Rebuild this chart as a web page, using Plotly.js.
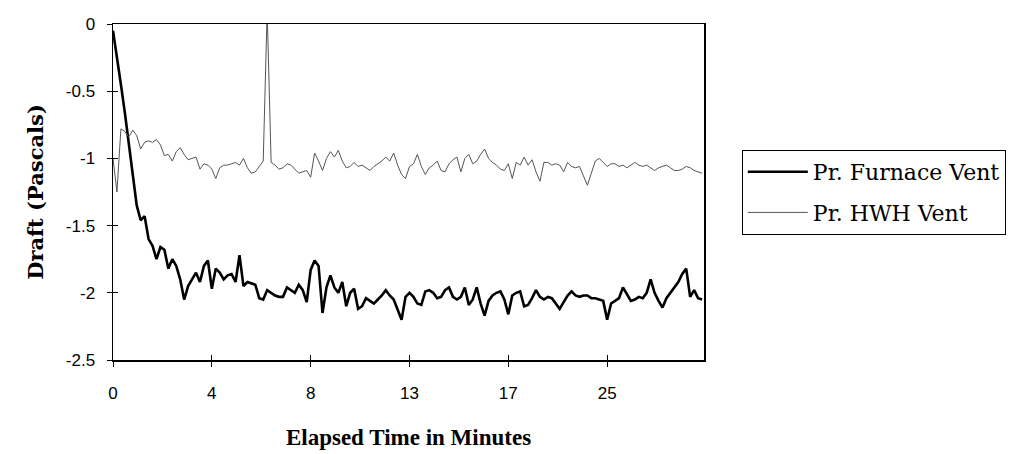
<!DOCTYPE html>
<html>
<head>
<meta charset="utf-8">
<script src="https://cdn.plot.ly/plotly-3.0.1.min.js"></script>
<style>html,body{margin:0;padding:0;background:#fff;}#chart{width:1014px;height:454px;}</style>
</head>
<body>
<div id="chart"></div>
<script>
// Elapsed-time tick labels (minutes), one label every 25 samples
var timeTickLabels = ['0', '4', '8', '13', '17', '25'];
var samplesPerLabel = 25;

// Draft readings (Pascals), sampled evenly along the category axis
var furnaceVent = [
  -0.05, -0.27, -0.45, -0.66, -0.88, -1.10, -1.35, -1.46, -1.43, -1.60,
  -1.65, -1.75, -1.66, -1.68, -1.82, -1.75, -1.80, -1.90, -2.05, -1.95,
  -1.90, -1.85, -1.92, -1.80, -1.76, -1.97, -1.82, -1.85, -1.90, -1.87,
  -1.86, -1.92, -1.72, -1.95, -1.92, -1.93, -1.94, -2.04, -2.05, -1.98,
  -2.00, -2.02, -2.03, -2.03, -1.96, -1.98, -2.00, -1.94, -1.98, -2.07,
  -1.83, -1.76, -1.80, -2.15, -1.96, -1.87, -1.96, -2.00, -1.92, -2.10,
  -2.00, -1.97, -2.12, -2.10, -2.04, -2.06, -2.08, -2.05, -2.02, -1.98,
  -2.02, -2.05, -2.12, -2.20, -2.03, -2.00, -2.03, -2.08, -2.09, -1.99,
  -1.98, -2.00, -2.04, -2.03, -1.98, -1.96, -2.03, -2.05, -2.03, -1.96,
  -2.09, -2.05, -1.96, -2.08, -2.17, -2.06, -2.02, -2.00, -1.99, -2.05,
  -2.16, -2.02, -2.00, -1.99, -2.10, -2.09, -2.04, -1.98, -2.03, -2.05,
  -2.03, -2.04, -2.08, -2.12, -2.07, -2.02, -1.99, -2.02, -2.03, -2.02,
  -2.02, -2.04, -2.04, -2.05, -2.06, -2.20, -2.08, -2.06, -2.04, -1.96,
  -2.01, -2.06, -2.05, -2.03, -2.04, -2.00, -1.90, -2.00, -2.06, -2.11,
  -2.04, -2.00, -1.96, -1.92, -1.86, -1.82, -2.03, -1.98, -2.04, -2.05
];
var hwhVent = [
  -1.00, -1.25, -0.78, -0.80, -0.84, -0.79, -0.83, -0.93, -0.88, -0.87,
  -0.88, -0.86, -0.90, -0.98, -0.97, -1.02, -0.95, -0.92, -0.97, -1.01,
  -1.00, -0.99, -1.08, -1.04, -1.05, -1.08, -1.15, -1.07, -1.05, -1.05,
  -1.04, -1.03, -1.05, -1.00, -1.07, -1.11, -1.10, -1.06, -1.02, 0.10,
  -1.03, -1.05, -1.08, -1.07, -1.04, -1.05, -1.08, -1.11, -1.10, -1.09,
  -1.14, -0.96, -1.02, -1.09, -1.00, -0.95, -0.99, -0.94, -1.02, -1.07,
  -1.06, -1.03, -1.06, -1.05, -1.07, -1.09, -1.06, -1.04, -1.02, -0.99,
  -1.02, -0.96, -1.05, -1.12, -1.15, -1.06, -1.04, -0.97, -1.06, -1.12,
  -1.07, -1.05, -1.02, -1.09, -1.10, -1.04, -1.01, -0.99, -1.10, -1.00,
  -0.97, -1.04, -1.02, -0.97, -0.93, -1.00, -1.03, -1.05, -1.08, -1.09,
  -1.04, -1.15, -1.03, -1.05, -0.99, -1.05, -1.01, -1.10, -1.17, -1.03,
  -1.03, -1.05, -1.04, -1.05, -1.10, -1.03, -1.06, -1.07, -1.06, -1.13,
  -1.20, -1.11, -1.02, -1.00, -1.03, -1.06, -1.04, -1.04, -1.06, -1.05,
  -1.07, -1.05, -1.03, -1.05, -1.06, -1.05, -1.07, -1.09, -1.07, -1.06,
  -1.05, -1.07, -1.09, -1.09, -1.08, -1.06, -1.07, -1.09, -1.10, -1.11
];
var seriesNames = ['Pr. Furnace Vent', 'Pr. HWH Vent'];
var yTickValues = [0, -0.5, -1, -1.5, -2, -2.5];
var yTickLabels = ['0', '-0.5', '-1', '-1.5', '-2', '-2.5'];

var sampleIndex = furnaceVent.map(function (_, i) { return i; });
var xTickPositions = timeTickLabels.map(function (_, k) { return k * samplesPerLabel; });
var xRange = [0, furnaceVent.length - 0.5];
var yRange = [-2.5, 0];

var traces = [
  {x: sampleIndex, y: furnaceVent, name: seriesNames[0], type: 'scatter', mode: 'lines',
   legendgroup: 'a', line: {color: '#000000', width: 2.6}},
  {x: sampleIndex, y: hwhVent, name: seriesNames[1], type: 'scatter', mode: 'lines',
   legendgroup: 'b', line: {color: '#555555', width: 1}}
];

var tickFont = {family: 'Liberation Sans, Arial, sans-serif', size: 17, color: '#000'};

var layout = {
  width: 1014, height: 454,
  margin: {l: 113, r: 310, t: 24, b: 94, pad: 0, autoexpand: false},
  paper_bgcolor: '#fff', plot_bgcolor: '#fff',
  showlegend: true,
  legend: {
    x: 1.064, y: 0.625, xanchor: 'left', yanchor: 'top',
    bgcolor: '#fff', bordercolor: '#000', borderwidth: 1,
    font: {family: 'DejaVu Serif, serif', size: 22, color: '#000'},
    traceorder: 'grouped', tracegroupgap: 9, itemwidth: 60
  },
  xaxis: {
    range: xRange, tickmode: 'array', tickvals: xTickPositions, ticktext: timeTickLabels,
    showgrid: false, zeroline: false, showline: true, linecolor: '#000', linewidth: 1.5,
    mirror: true, ticks: 'outside', ticklen: 5, tickcolor: '#000', tickwidth: 1,
    tickfont: tickFont, ticklabelstandoff: 12,
    title: {text: 'Elapsed Time in Minutes',
            font: {family: 'Liberation Serif, serif', size: 23, color: '#000', weight: 'bold'},
            standoff: 27}
  },
  yaxis: {
    range: yRange, tickmode: 'array', tickvals: yTickValues, ticktext: yTickLabels,
    showgrid: false, zeroline: false, showline: true, linecolor: '#000', linewidth: 1.5,
    mirror: true, ticks: 'outside', ticklen: 5, tickcolor: '#000', tickwidth: 1,
    tickfont: tickFont, ticklabelstandoff: 8,
    title: {text: 'Draft (Pascals)',
            font: {family: 'DejaVu Serif, serif', size: 21, color: '#000', weight: 'bold'},
            standoff: 16}
  },
  xaxis2: {
    overlaying: 'x', range: xRange, tickmode: 'array', tickvals: xTickPositions,
    showticklabels: false, ticks: 'inside', ticklen: 5, tickcolor: '#000',
    showgrid: false, zeroline: false, showline: false, anchor: 'y'
  },
  yaxis2: {
    overlaying: 'y', range: yRange, tickmode: 'array', tickvals: yTickValues,
    showticklabels: false, ticks: 'inside', ticklen: 5, tickcolor: '#000',
    showgrid: false, zeroline: false, showline: false, anchor: 'x'
  }
};

// invisible helper trace so the inside-tick axes are drawn
traces.push({x: [], y: [], xaxis: 'x2', yaxis: 'y2', showlegend: false, hoverinfo: 'skip', type: 'scatter'});

Plotly.newPlot('chart', traces, layout, {displayModeBar: false, staticPlot: true});
</script>
</body>
</html>
